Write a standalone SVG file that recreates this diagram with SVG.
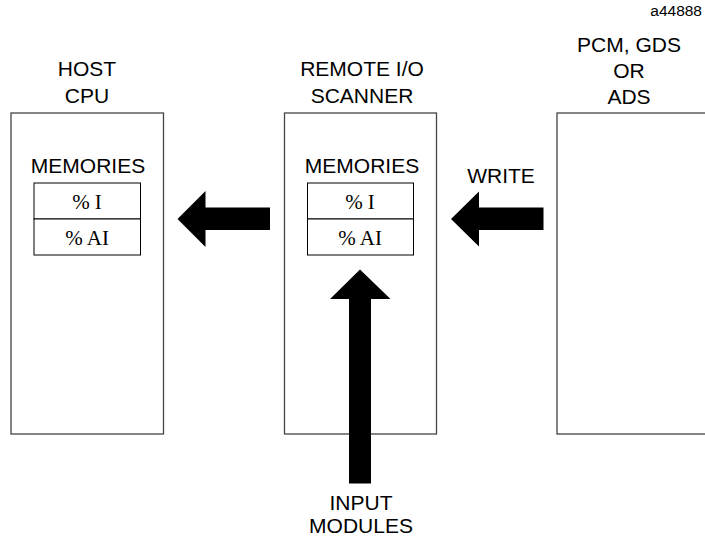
<svg xmlns="http://www.w3.org/2000/svg" width="705" height="537" viewBox="0 0 705 537">
<style>
.box{fill:#fff;stroke:#444;stroke-width:1.3}
.cell{fill:#fff;stroke:#000;stroke-width:1}
.lbl{font-family:"Liberation Sans",Arial,sans-serif;font-size:21px;fill:#000;text-anchor:middle}
.ser{font-family:"Liberation Serif","Times New Roman",serif;font-size:21px;fill:#000;text-anchor:middle}
.arr{fill:#000;stroke:none}
</style>
<rect width="705" height="537" fill="#fff"/>
<text x="702" y="16" font-family="Liberation Sans, Arial, sans-serif" font-size="15.5" text-anchor="end">a44888</text>
<g id="host">
<text class="lbl" x="87" y="76">HOST</text>
<text class="lbl" x="87" y="102.5">CPU</text>
<rect class="box" x="11" y="113" width="152.5" height="321"/>
<text class="lbl" x="88" y="172.5">MEMORIES</text>
<rect class="cell" x="34" y="183" width="106.5" height="36"/>
<rect class="cell" x="34" y="219" width="106.5" height="36"/>
<text class="ser" x="87" y="209">% I</text>
<text class="ser" x="87" y="245">% AI</text>
</g>
<g id="scanner">
<text class="lbl" x="362" y="76">REMOTE I/O</text>
<text class="lbl" x="362" y="102.5">SCANNER</text>
<rect class="box" x="284.5" y="113" width="152" height="321"/>
<text class="lbl" x="362" y="172.5">MEMORIES</text>
<rect class="cell" x="307.5" y="183" width="106" height="36"/>
<rect class="cell" x="307.5" y="219" width="106" height="36"/>
<text class="ser" x="360" y="209">% I</text>
<text class="ser" x="360" y="245">% AI</text>
</g>
<g id="pcm">
<text class="lbl" x="629" y="51.5">PCM, GDS</text>
<text class="lbl" x="629" y="78">OR</text>
<text class="lbl" x="629" y="103.5">ADS</text>
<rect class="box" x="557" y="113" width="160" height="321"/>
</g>
<g id="input">
<text class="lbl" x="361" y="510">INPUT</text>
<text class="lbl" x="361" y="533">MODULES</text>
</g>
<g id="connectors">
<polygon class="arr" points="177.5,219 205.5,191 205.5,207.5 270,207.5 270,230 205.5,230 205.5,247"/>
<polygon class="arr" points="451,219 479,191.5 479,207.5 543.5,207.5 543.5,230 479,230 479,246.5"/>
<text class="lbl" x="501" y="182.5">WRITE</text>
<polygon class="arr" points="360,269.5 390.5,299 371,299 371,483.5 349,483.5 349,299 330,299"/>
</g>
</svg>
